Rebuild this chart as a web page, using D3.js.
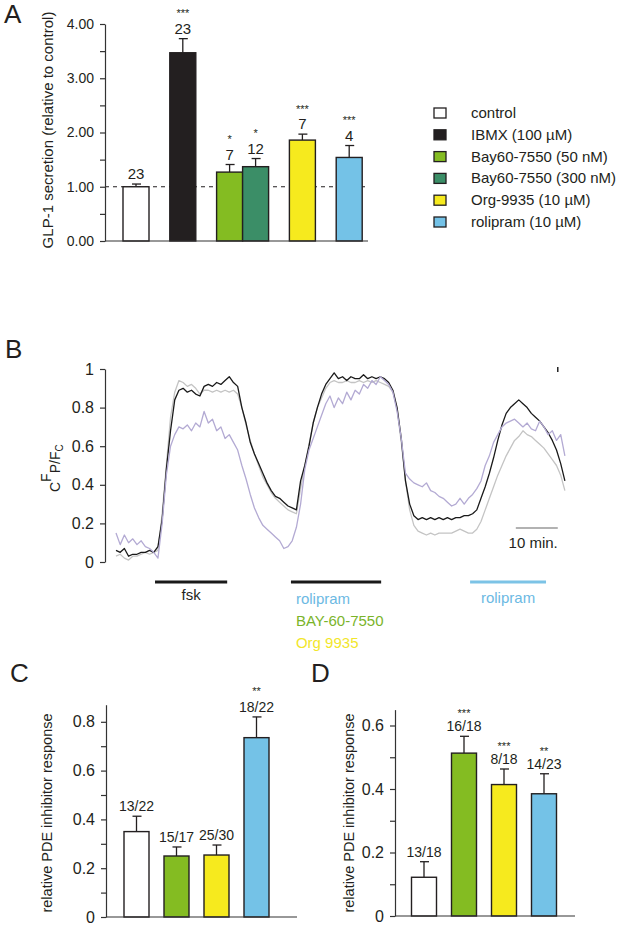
<!DOCTYPE html>
<html><head><meta charset="utf-8">
<script src="https://cdn.jsdelivr.net/npm/d3@7/dist/d3.min.js"></script>
<style>
html,body{margin:0;padding:0;background:#fff;}
svg{display:block;font-family:"Liberation Sans",Arial,Helvetica,sans-serif;}
</style></head><body>
<svg id="fig" width="624" height="926"></svg>
<script>
// ---------------- Panel A data ----------------
const aLabels = ["control","IBMX (100 \u00b5M)","Bay60-7550 (50 nM)","Bay60-7550 (300 nM)","Org-9935 (10 \u00b5M)","rolipram (10 \u00b5M)"];
const aGroup  = [0,1,2,2,3,4];
const aMeans  = [1.00,3.47,1.27,1.37,1.86,1.54];
const aErrors = [0.05,0.26,0.14,0.15,0.11,0.22];
const aN      = ["23","23","7","12","7","4"];
const aStars  = ["","***","*","*","***","***"];
const aColors = ["#ffffff","#231f20","#84bc22","#3b8e67","#f6ea1e","#74c2e7"];
const aMajorTicks = [0,1,2,3,4];
const aMinorTicks = [0.5,1.5,2.5,3.5];

// ---------------- Panel B data (1 sample per minute) ----------------
const bBlack = [0.06,0.05,0.07,0.03,0.04,0.04,0.05,0.05,0.06,0.05,
0.08,0.22,0.48,0.68,0.84,0.89,0.90,0.88,0.89,0.87,
0.86,0.91,0.92,0.91,0.93,0.92,0.94,0.96,0.93,0.91,
0.80,0.72,0.62,0.56,0.51,0.46,0.41,0.37,0.34,0.33,
0.31,0.29,0.28,0.27,0.42,0.50,0.60,0.72,0.80,0.87,
0.92,0.95,0.98,0.95,0.96,0.94,0.96,0.95,0.95,0.97,
0.95,0.96,0.95,0.96,0.95,0.93,0.89,0.80,0.64,0.42,
0.30,0.24,0.22,0.23,0.22,0.23,0.22,0.23,0.22,0.23,
0.22,0.23,0.23,0.24,0.24,0.25,0.27,0.33,0.39,0.46,
0.54,0.63,0.71,0.77,0.80,0.82,0.84,0.82,0.80,0.77,
0.75,0.73,0.70,0.67,0.63,0.58,0.51,0.42];
const bGray = [0.03,0.04,0.02,0.01,0.03,0.03,0.04,0.05,0.04,0.05,
0.06,0.25,0.50,0.75,0.88,0.94,0.93,0.91,0.92,0.90,
0.87,0.89,0.89,0.88,0.89,0.88,0.89,0.88,0.89,0.87,
0.80,0.71,0.63,0.56,0.50,0.44,0.40,0.36,0.33,0.31,
0.29,0.27,0.26,0.25,0.38,0.50,0.61,0.72,0.80,0.85,
0.90,0.93,0.94,0.93,0.93,0.94,0.93,0.93,0.94,0.93,
0.94,0.93,0.94,0.93,0.92,0.91,0.88,0.79,0.62,0.42,
0.27,0.19,0.16,0.15,0.14,0.15,0.14,0.15,0.15,0.15,
0.15,0.16,0.17,0.16,0.15,0.15,0.17,0.21,0.27,0.33,
0.39,0.45,0.50,0.55,0.59,0.63,0.65,0.68,0.66,0.65,
0.63,0.61,0.59,0.56,0.53,0.50,0.45,0.37];
const bLavender = [0.15,0.09,0.14,0.10,0.12,0.09,0.11,0.08,0.07,0.05,
0.02,0.20,0.45,0.60,0.66,0.70,0.69,0.71,0.68,0.72,
0.70,0.78,0.72,0.74,0.68,0.70,0.64,0.66,0.62,0.58,
0.50,0.43,0.35,0.28,0.23,0.19,0.17,0.15,0.13,0.11,
0.07,0.08,0.11,0.18,0.30,0.48,0.58,0.64,0.70,0.76,
0.82,0.86,0.80,0.85,0.82,0.88,0.84,0.89,0.87,0.92,
0.90,0.94,0.92,0.96,0.94,0.92,0.88,0.78,0.64,0.46,
0.43,0.41,0.40,0.39,0.41,0.37,0.36,0.34,0.33,0.31,
0.29,0.30,0.33,0.30,0.33,0.35,0.38,0.42,0.50,0.55,
0.62,0.66,0.70,0.72,0.73,0.74,0.72,0.70,0.72,0.69,
0.68,0.73,0.70,0.66,0.68,0.63,0.66,0.55];
const bTicks = [0,0.2,0.4,0.6,0.8,1];
const bPeriods = [
  {start: 9.3,  end: 26.5,  color: "#1a1a1a"},
  {start: 41.7, end: 63.2,  color: "#1a1a1a"},
  {start: 84.4, end: 102.5, color: "#7cc3e6"}
];
const bScaleBar = {start: 95.3, end: 105.3, label: "10 min."};

// ---------------- Panel C data ----------------
const cCategories = ["control","BAY-60-7550","Org 9935","rolipram"];
const cMeans  = [0.350,0.250,0.254,0.735];
const cErrors = [0.063,0.037,0.041,0.085];
const cN      = ["13/22","15/17","25/30","18/22"];
const cStars  = ["","","","**"];
const cColors = ["#ffffff","#84bc22","#f6ea1e","#74c2e7"];
const cMajorTicks = [0,0.2,0.4,0.6,0.8];
const cMinorTicks = [0.1,0.3,0.5,0.7];

// ---------------- Panel D data ----------------
const dCategories = ["control","BAY-60-7550","Org 9935","rolipram"];
const dMeans  = [0.122,0.513,0.414,0.385];
const dErrors = [0.049,0.053,0.049,0.063];
const dN      = ["13/18","16/18","8/18","14/23"];
const dStars  = ["","***","***","**"];
const dColors = ["#ffffff","#84bc22","#f6ea1e","#74c2e7"];
const dMajorTicks = [0,0.2,0.4,0.6];
const dMinorTicks = [0.1,0.3,0.5];

// ================= drawing =================
const svg = d3.select("#fig");
const INK = "#231f20";

function panelLabel(t, x, y) {
  svg.append("text").attr("x", x).attr("y", y).attr("font-size", 26)
    .attr("fill", INK).text(t);
}

function drawYAxis(x, scale, major, minor, fmt, fs) {
  const g = svg.append("g").attr("transform", `translate(${x},0)`);
  if (minor.length) {
    g.append("g").call(d3.axisLeft(scale).tickValues(minor).tickSize(5).tickSizeOuter(0).tickFormat(""))
      .call(s => s.select(".domain").remove());
  }
  g.append("g").call(d3.axisLeft(scale).tickValues(major).tickSize(5).tickSizeOuter(0).tickPadding(6).tickFormat(fmt));
  g.selectAll("path,line").attr("stroke", "#333").attr("stroke-width", 1.2);
  g.selectAll("text").attr("font-size", fs).attr("fill", INK)
    .attr("font-family", '"Liberation Sans",Arial,sans-serif');
  return g;
}

function rotTitle(text, x, y, fs) {
  svg.append("text").attr("transform", `translate(${x},${y}) rotate(-90)`)
    .attr("text-anchor", "middle").attr("font-size", fs).attr("fill", INK).text(text);
}

function drawBars(xPos, bw, y, means, errs, colors, ns, stars, nfs, starGap) {
  means.forEach((m, i) => {
    const x0 = xPos(i), cx = x0 + bw / 2;
    const top = y(m), et = y(m + errs[i]);
    svg.append("line").attr("x1", cx).attr("x2", cx).attr("y1", top).attr("y2", et)
      .attr("stroke", INK).attr("stroke-width", 1.3);
    svg.append("line").attr("x1", cx - 4).attr("x2", cx + 5).attr("y1", et).attr("y2", et)
      .attr("stroke", INK).attr("stroke-width", 1.3);
    svg.append("rect").attr("x", x0).attr("y", top).attr("width", bw)
      .attr("height", y(0) - top).attr("fill", colors[i])
      .attr("stroke", INK).attr("stroke-width", 1.4);
    const nb = et - 5;
    svg.append("text").attr("x", cx).attr("y", nb).attr("text-anchor", "middle")
      .attr("font-size", nfs).attr("fill", INK).text(ns[i]);
    if (stars[i]) {
      svg.append("text").attr("x", cx).attr("y", nb - starGap).attr("text-anchor", "middle")
        .attr("font-size", 11).attr("fill", INK).text(stars[i]);
    }
  });
}

// ---------- Panel A ----------
panelLabel("A", 4, 23);
const yA = d3.scaleLinear().domain([0, 4]).range([241, 24]);
const slotStart = [];
{ let s = 0; aGroup.forEach((g, i) => { if (i > 0) s += (g === aGroup[i - 1] ? 1 : 1.8); slotStart.push(s); }); }
const xA = d3.scaleLinear().domain([0, 1]).range([123, 149]);
const bwA = xA(1) - xA(0);
svg.append("line").attr("x1", 105).attr("x2", 368).attr("y1", yA(1)).attr("y2", yA(1))
  .attr("stroke", INK).attr("stroke-width", 1.2).attr("stroke-dasharray", "4,4");
drawBars(i => xA(slotStart[i]), bwA, yA, aMeans, aErrors, aColors, aN, aStars, 15, 16.5);
drawYAxis(105, yA, aMajorTicks, aMinorTicks, d3.format(".2f"), 14);
svg.append("line").attr("x1", 105).attr("x2", 368).attr("y1", yA(0)).attr("y2", yA(0))
  .attr("stroke", "#333").attr("stroke-width", 1.2);
rotTitle("GLP-1 secretion (relative to control)", 53, 130, 15);

const legY = d3.scalePoint().domain(aLabels).range([113, 222]);
aLabels.forEach((lab, i) => {
  svg.append("rect").attr("x", 434).attr("y", legY(lab) - 5).attr("width", 12).attr("height", 10)
    .attr("fill", aColors[i]).attr("stroke", INK).attr("stroke-width", 1.3);
  svg.append("text").attr("x", 471).attr("y", legY(lab) + 5).attr("font-size", 15)
    .attr("fill", INK).text(lab);
});

// ---------- Panel B ----------
panelLabel("B", 5, 358);
const xB = d3.scaleLinear().domain([0, 107.5]).range([116, 567]);
const yB = d3.scaleLinear().domain([0, 1]).range([562, 369]);
drawYAxis(105, yB, bTicks, [], d3.format(""), 16);
const lineB = d3.line().x((d, i) => xB(i)).y(d => yB(d));
[[bGray, "#c4c4c4"], [bBlack, "#1a1a1a"], [bLavender, "#b3aad3"]].forEach(([arr, col]) => {
  svg.append("path").datum(arr).attr("d", lineB).attr("fill", "none")
    .attr("stroke", col).attr("stroke-width", 1.3).attr("stroke-linejoin", "round");
});
{
  const t = svg.append("text").attr("transform", "translate(60,492) rotate(-90)")
    .attr("font-size", 14).attr("fill", INK);
  t.append("tspan").text("C");
  t.append("tspan").attr("dy", -9).text("F");
  t.append("tspan").attr("dy", 9).text("P/F");
  t.append("tspan").attr("dy", 3).attr("font-size", 10).text("C");
}
bPeriods.forEach(p => {
  svg.append("line").attr("x1", xB(p.start)).attr("x2", xB(p.end)).attr("y1", 582).attr("y2", 582)
    .attr("stroke", p.color).attr("stroke-width", 3);
});
svg.append("text").attr("x", (xB(bPeriods[0].start) + xB(bPeriods[0].end)) / 2).attr("y", 600)
  .attr("text-anchor", "middle").attr("font-size", 15).attr("fill", INK).text("fsk");
svg.append("text").attr("x", xB(bPeriods[1].start) + 5).attr("y", 604)
  .attr("font-size", 15).attr("fill", "#6cb9e3").text("rolipram");
svg.append("text").attr("x", xB(bPeriods[1].start) + 5).attr("y", 626)
  .attr("font-size", 15).attr("fill", "#7ab42a").text("BAY-60-7550");
svg.append("text").attr("x", xB(bPeriods[1].start) + 5).attr("y", 648)
  .attr("font-size", 15).attr("fill", "#f2e62a").text("Org 9935");
svg.append("text").attr("x", (xB(bPeriods[2].start) + xB(bPeriods[2].end)) / 2).attr("y", 603)
  .attr("text-anchor", "middle").attr("font-size", 15).attr("fill", "#6cb9e3").text("rolipram");
svg.append("line").attr("x1", xB(bScaleBar.start)).attr("x2", xB(bScaleBar.end)).attr("y1", 528).attr("y2", 528)
  .attr("stroke", "#999").attr("stroke-width", 1.3);
svg.append("text").attr("x", xB(bScaleBar.end)).attr("y", 548).attr("text-anchor", "end")
  .attr("font-size", 15).attr("fill", INK).text(bScaleBar.label);
svg.append("line").attr("x1", xB(bScaleBar.end)).attr("x2", xB(bScaleBar.end)).attr("y1", 367).attr("y2", 372)
  .attr("stroke", "#222").attr("stroke-width", 1.5);

// ---------- Panel C ----------
panelLabel("C", 10, 682);
const yC = d3.scaleLinear().domain([0, 0.87]).range([917, 917 - 0.87 * 244]);
const xC = d3.scaleBand().domain(cCategories).range([116.5, 276.5]).paddingInner(0.375).paddingOuter(0.1875);
drawBars(i => xC(cCategories[i]), xC.bandwidth(), yC, cMeans, cErrors, cColors, cN, cStars, 14, 17);
drawYAxis(106, yC, cMajorTicks, cMinorTicks, d3.format(""), 16);
svg.append("line").attr("x1", 106).attr("x2", 297).attr("y1", yC(0)).attr("y2", yC(0))
  .attr("stroke", "#333").attr("stroke-width", 1.2);
rotTitle("relative PDE inhibitor response", 52, 813, 14.5);

// ---------- Panel D ----------
panelLabel("D", 311, 682);
const yD = d3.scaleLinear().domain([0, 0.65]).range([916, 916 - 0.65 * 317.5]);
const xD = d3.scaleBand().domain(dCategories).range([404, 564]).paddingInner(0.375).paddingOuter(0.1875);
drawBars(i => xD(dCategories[i]), xD.bandwidth(), yD, dMeans, dErrors, dColors, dN, dStars, 14, 14);
drawYAxis(395, yD, dMajorTicks, dMinorTicks, d3.format(""), 16);
svg.append("line").attr("x1", 395).attr("x2", 575).attr("y1", yD(0)).attr("y2", yD(0))
  .attr("stroke", "#333").attr("stroke-width", 1.2);
rotTitle("relative PDE inhibitor response", 354, 813, 14.5);
</script>
</body></html>
